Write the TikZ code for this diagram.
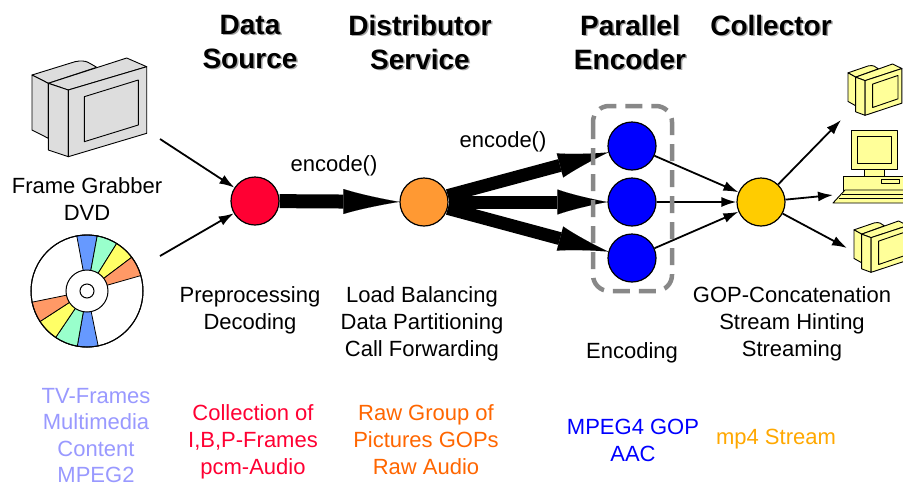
\documentclass[tikz,border=0pt]{standalone}
\usepackage{fontspec}
\setmainfont{Liberation Sans}
\usetikzlibrary{arrows.meta}

\definecolor{srcred}{HTML}{FF0033}
\definecolor{distorange}{HTML}{FF9933}
\definecolor{encblue}{HTML}{0000FF}
\definecolor{collyellow}{HTML}{FFCC00}
\definecolor{rawtext}{HTML}{FF6600}
\definecolor{tvtext}{HTML}{9999FF}
\definecolor{mptext}{HTML}{FFA800}
\definecolor{boxgray}{HTML}{888888}
\definecolor{crtgray}{HTML}{DDDDDD}
\definecolor{pcyellow}{HTML}{FFFF99}
\definecolor{cdblue}{HTML}{6699FF}
\definecolor{cdgreen}{HTML}{99FFCC}
\definecolor{cdyellow}{HTML}{FFFF66}
\definecolor{cdorange}{HTML}{FF9966}

\tikzset{
  proc/.style={circle, draw=black, line width=1.2pt, minimum size=48pt, inner sep=0pt},
  txt/.style={font=\fontsize{22}{27}\selectfont, align=center, inner sep=0pt, anchor=north},
  ttl/.style={font=\fontsize{28}{34}\selectfont\bfseries, align=center, inner sep=0pt, anchor=north},
  ttlshadow/.style={ttl, text=black!35},
  fat/.style={line width=14pt, -{Latex[length=56pt,width=25pt,line width=0.01pt]}},
  fatfan/.style={line width=13pt, -{Latex[length=50pt,width=25pt,line width=0.01pt]}},
  thinarrow/.style={line width=1.8pt, -{Latex[length=15pt,width=10pt]}},
  dev/.style={draw=black, line width=0.9pt, line join=round},
  pics/crt/.style={code={
    % rear housing: top and side
    \filldraw[dev, fill=#1] (0,17) -- (43,3.7) .. controls (55,1) and (58,6) .. (64.7,9.3) -- (16.3,25.3) -- cycle;
    \filldraw[dev, fill=#1] (0,17) -- (16.3,25.3) -- (16.3,80.3) -- (0,72) -- cycle;
    % front housing: top, side, face
    \filldraw[dev, fill=#1] (16.3,25.3) -- (94.7,0) -- (114.7,8.7) -- (36.3,32) -- cycle;
    \filldraw[dev, fill=#1] (16.3,25.3) -- (36.3,32) -- (36.3,98.7) -- (16.3,92) -- cycle;
    \filldraw[dev, fill=#1] (36.3,32) -- (114.7,8.7) -- (114.7,75.3) -- (36.3,98.7) -- cycle;
    % screen
    \draw[dev] (52.3,38.7) -- (106.3,22) -- (106.3,67) -- (52.3,83.7) -- cycle;
  }}
}

\begin{document}
\begin{tikzpicture}[x=1pt,y=-1pt]
\useasboundingbox[fill=white] (0,0) rectangle (903,488);

% ---- stage titles ----
\node[ttlshadow] (t1s) at (251.5,16.5) {Data\\Source};
\node[ttl] (t1) at (250,15) {Data\\Source};
\node[ttlshadow] (t2s) at (421.5,16.5) {Distributor\\Service};
\node[ttl] (t2) at (420,15) {Distributor\\Service};
\node[ttlshadow] (t3s) at (631.5,16.5) {Parallel\\Encoder};
\node[ttl] (t3) at (630,15) {Parallel\\Encoder};
\node[ttlshadow] (t4s) at (772.5,16.5) {Collector};
\node[ttl] (t4) at (771,15) {Collector};

% ---- input devices ----
\pic[dev] at (32,58) {crt=crtgray};
\coordinate (disc) at (87,291);
\filldraw[fill=white, draw=black, line width=1pt] (disc) circle[radius=56];
\foreach \a/\b/\c in {-100.5/-79.5/cdblue, -79.5/-58/cdgreen, -58/-37/cdyellow, -37/-16/cdorange,
                     78.5/100/cdblue, 100/124/cdgreen, 124/147/cdyellow, 147/168.5/cdorange}
  \filldraw[fill=\c, draw=black, line width=0.8pt] (disc) -- ++(\a:56) arc[start angle=\a, end angle=\b, radius=56] -- cycle;
\filldraw[fill=white, draw=black, line width=1pt] (disc) circle[radius=21];
\draw[black, line width=1pt] (disc) circle[radius=7];
\draw[black, line width=1pt] (disc) circle[radius=56];

\node[txt] (grab) at (87,177) {Frame Grabber\\DVD};

% ---- output devices ----
\pic[xscale=0.47, yscale=0.52] at (848,64) {crt=pcyellow};
\pic[xscale=0.47, yscale=0.52] at (854,221) {crt=pcyellow};
% desktop computer
\filldraw[dev, fill=pcyellow] (864,169) rectangle (884,176);
\filldraw[dev, fill=pcyellow] (851,130) rectangle (897,169);
\draw[dev] (857,136) rectangle (891,163);
\filldraw[dev, fill=pcyellow] (843,176) rectangle (906,190);
\draw[dev] (881,179) rectangle (899,183);
\filldraw[dev, fill=pcyellow] (845,190) -- (906,190) -- (906,203) -- (833,203) -- cycle;
\draw[line width=0.7pt] (842,194.5) -- (906,194.5);
\draw[line width=0.7pt] (838.5,198.5) -- (906,198.5);

% ---- processing nodes ----
\node[proc, fill=srcred] (src) at (255,201) {};
\node[proc, fill=distorange] (dist) at (424,202) {};
\node[proc, fill=encblue] (e1) at (632,146) {};
\node[proc, fill=encblue] (e2) at (632,202) {};
\node[proc, fill=encblue] (e3) at (632,258) {};
\node[proc, fill=collyellow] (coll) at (761,202) {};

% ---- connectors ----
\coordinate (fg) at (160,139);
\coordinate (dvd) at (160,256);
\coordinate (mon1) at (841,120);
\coordinate (pc) at (833,195);
\coordinate (mon2) at (847,248);

\draw[thinarrow] (fg) -- (src);
\draw[thinarrow] (dvd) -- (src);
\draw[fat] (src) -- (dist);
\draw[fatfan] (dist) -- (e1);
\draw[fatfan] (dist) -- (e2);
\draw[fatfan] (dist) -- (e3);
\draw[thinarrow] (e1) -- (coll);
\draw[thinarrow] (e2) -- (coll);
\draw[thinarrow] (e3) -- (coll);
\draw[thinarrow] (coll) -- (mon1);
\draw[thinarrow] (coll) -- (pc);
\draw[thinarrow] (coll) -- (mon2);

% encoder group outline
\draw[boxgray, line width=4.5pt, dash pattern=on 17pt off 9pt, rounded corners=16pt]
  (593,106) rectangle (672,291);

\node[txt, anchor=center] (enc1) at (334,166) {encode()};
\node[txt, anchor=center] (enc2) at (503,142) {encode()};

% ---- task descriptions ----
\node[txt] (d1) at (250,286) {Preprocessing\\Decoding};
\node[txt] (d2) at (422,286) {Load Balancing\\Data Partitioning\\Call Forwarding};
\node[txt] (d3) at (632,342) {Encoding};
\node[txt] (d4) at (792,286) {GOP-Concatenation\\Stream Hinting\\Streaming};

% ---- data formats ----
\node[txt, text=tvtext, font=\fontsize{22}{26.5}\selectfont] (f0) at (96,388) {TV-Frames\\Multimedia\\Content\\MPEG2};
\node[txt, text=srcred] (f1) at (253,404) {Collection of\\I,B,P-Frames\\pcm-Audio};
\node[txt, text=rawtext] (f2) at (426,404) {Raw Group of\\Pictures GOPs\\Raw Audio};
\node[txt, text=encblue] (f3) at (633,419) {MPEG4 GOP\\AAC};
\node[txt, text=mptext, anchor=center] (f4) at (776,439) {mp4 Stream};
\end{tikzpicture}
\end{document}
